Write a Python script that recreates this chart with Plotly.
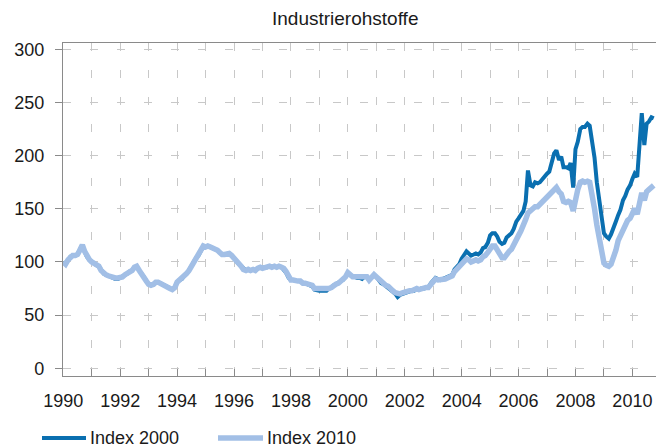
import plotly.graph_objects as go

# --- data ---
dates = [
    1990.00, 1990.08, 1990.17, 1990.25, 1990.33, 1990.42, 1990.50, 1990.58, 1990.67, 1990.75, 1990.83, 1990.92,
    1991.00, 1991.08, 1991.17, 1991.25, 1991.33, 1991.42, 1991.50, 1991.58, 1991.67, 1991.75, 1991.83, 1991.92,
    1992.00, 1992.08, 1992.17, 1992.25, 1992.33, 1992.42, 1992.50, 1992.58, 1992.67, 1992.75, 1992.83, 1992.92,
    1993.00, 1993.08, 1993.17, 1993.25, 1993.33, 1993.42, 1993.50, 1993.58, 1993.67, 1993.75, 1993.83, 1993.92,
    1994.00, 1994.08, 1994.17, 1994.25, 1994.33, 1994.42, 1994.50, 1994.58, 1994.67, 1994.75, 1994.83, 1994.92,
    1995.00, 1995.08, 1995.17, 1995.25, 1995.33, 1995.42, 1995.50, 1995.58, 1995.67, 1995.75, 1995.83, 1995.92,
    1996.00, 1996.08, 1996.17, 1996.25, 1996.33, 1996.42, 1996.50, 1996.58, 1996.67, 1996.75, 1996.83, 1996.92,
    1997.00, 1997.08, 1997.17, 1997.25, 1997.33, 1997.42, 1997.50, 1997.58, 1997.67, 1997.75, 1997.83, 1997.92,
    1998.00, 1998.08, 1998.17, 1998.25, 1998.33, 1998.42, 1998.50, 1998.58, 1998.67, 1998.75, 1998.83, 1998.92,
    1999.00, 1999.08, 1999.17, 1999.25, 1999.33, 1999.42, 1999.50, 1999.58, 1999.67, 1999.75, 1999.83, 1999.92,
    2000.00, 2000.08, 2000.17, 2000.25, 2000.33, 2000.42, 2000.50, 2000.58, 2000.67, 2000.75, 2000.83, 2000.92,
    2001.00, 2001.08, 2001.17, 2001.25, 2001.33, 2001.42, 2001.50, 2001.58, 2001.67, 2001.75, 2001.83, 2001.92,
    2002.00, 2002.08, 2002.17, 2002.25, 2002.33, 2002.42, 2002.50, 2002.58, 2002.67, 2002.75, 2002.83, 2002.92,
    2003.00, 2003.08, 2003.17, 2003.25, 2003.33, 2003.42, 2003.50, 2003.58, 2003.67, 2003.75, 2003.83, 2003.92,
    2004.00, 2004.08, 2004.17, 2004.25, 2004.33, 2004.42, 2004.50, 2004.58, 2004.67, 2004.75, 2004.83, 2004.92,
    2005.00, 2005.08, 2005.17, 2005.25, 2005.33, 2005.42, 2005.50, 2005.58, 2005.67, 2005.75, 2005.83, 2005.92,
    2006.00, 2006.08, 2006.17, 2006.25, 2006.33, 2006.42, 2006.50, 2006.58, 2006.67, 2006.75, 2006.83, 2006.92,
    2007.00, 2007.08, 2007.17, 2007.25, 2007.33, 2007.42, 2007.50, 2007.58, 2007.67, 2007.75, 2007.83, 2007.92,
    2008.00, 2008.08, 2008.17, 2008.25, 2008.33, 2008.42, 2008.50, 2008.58, 2008.67, 2008.75, 2008.83, 2008.92,
    2009.00, 2009.08, 2009.17, 2009.25, 2009.33, 2009.42, 2009.50, 2009.58, 2009.67, 2009.75, 2009.83, 2009.92,
    2010.00, 2010.08, 2010.17, 2010.25, 2010.33, 2010.42, 2010.50, 2010.58, 2010.67, 2010.75,
]

index_2000 = [
    100, 98, 102, 105, 106, 106, 107, 111, 116, 110, 105, 102,
    100, 99, 97, 96, 92, 89, 88, 87, 86, 84, 84, 84,
    85, 86, 88, 89, 91, 92, 95, 96, 92, 88, 86, 82,
    79, 78, 79, 81, 81, 80, 79, 78, 77, 75, 74, 76,
    81, 83, 84, 87, 89, 92, 96, 100, 104, 106, 110, 115,
    114, 115, 114, 113, 113, 111, 109, 107, 107, 108, 108, 106,
    104, 101, 98, 96, 93, 92, 93, 92, 93, 92, 94, 95,
    94, 95, 95, 96, 95, 96, 95, 96, 95, 93, 90, 85,
    83, 83, 82, 82, 82, 80, 80, 79, 78, 77, 74, 73,
    73, 73, 73, 73, 75, 76, 78, 79, 80, 82, 83, 86,
    90, 88, 86, 86, 85, 85, 84, 86, 86, 83, 85, 88,
    86, 83, 80, 79, 77, 76, 73, 72, 70, 67, 69, 70,
    71, 72, 73, 73, 73, 75, 74, 75, 75, 76, 76, 80,
    83, 85, 84, 83, 84, 85, 86, 86, 88, 93, 95, 98,
    103, 107, 110, 108, 106, 107, 108, 107, 109, 113, 114, 118,
    125, 127, 127, 124, 119, 117, 118, 123, 125, 127, 131, 138,
    141, 145, 148, 157, 186, 172, 171, 175, 174, 175, 178, 180,
    183, 185, 196, 202, 205, 196, 199, 189, 189, 188, 193, 170,
    206, 213, 225, 227, 227, 230, 228, 213, 198, 175, 160, 140,
    127, 124, 122, 126, 131, 138, 144, 149, 158, 162, 168, 172,
    178, 183, 180, 210, 240, 210, 230, 232, 236, 235,
]

index_2010 = [
    100, 98, 102, 105, 106, 106, 107, 111, 116, 110, 105, 102,
    100, 99, 97, 96, 92, 89, 88, 87, 86, 85, 85, 85,
    85, 86, 88, 89, 91, 92, 95, 96, 92, 88, 86, 82,
    79, 78, 79, 81, 81, 80, 79, 78, 77, 75, 74, 76,
    81, 83, 84, 87, 89, 92, 96, 100, 104, 106, 110, 115,
    114, 115, 114, 113, 113, 111, 109, 107, 107, 108, 108, 106,
    104, 101, 98, 96, 93, 92, 93, 92, 93, 92, 94, 95,
    94, 95, 95, 96, 95, 96, 95, 96, 95, 94, 91, 86,
    83, 83, 82, 82, 82, 80, 80, 79, 79, 78, 75, 75,
    74, 74, 74, 74, 75, 76, 78, 79, 80, 82, 83, 86,
    90, 88, 86, 86, 86, 86, 86, 87, 86, 83, 85, 88,
    86, 84, 81, 80, 78, 77, 74, 73, 71, 70, 70, 71,
    72, 72, 73, 73, 74, 75, 74, 75, 75, 76, 76, 79,
    82, 84, 83, 83, 84, 84, 85, 86, 87, 91, 93, 96,
    99, 101, 103, 102, 100, 101, 102, 101, 102, 105, 106, 109,
    113, 115, 115, 112, 107, 104, 104, 108, 110, 112, 117, 122,
    125, 129, 134, 140, 146, 148, 150, 152, 152, 154, 156, 158,
    160, 162, 165, 168, 170, 166, 164, 157, 156, 157, 156, 148,
    160, 168, 175, 176, 175, 176, 175, 165, 150, 135, 122, 108,
    99, 97, 96, 98, 103, 111, 120, 125, 128, 133, 139, 141,
    145, 150, 145, 155, 165, 158, 166, 168, 170, 172,
]

year_ticks = list(range(1990, 2011))
year_labels = [str(y) if y % 2 == 0 else "" for y in year_ticks]
y_ticks = [0, 50, 100, 150, 200, 250, 300]

title_text = "Industrierohstoffe"
series_names = ["Index 2000", "Index 2010"]

# --- styling ---
DARK = "#0a6fb0"
LIGHT = "#a2bfe6"
GRID = "#c8c8c8"
AXIS = "#8a8a8a"
FONT = "Liberation Sans, Arial, sans-serif"
TXT = "#1a1a1a"

W, H = 656, 447
ML, MR, MT, MB = 63, 0, 43, 71
PW, PH = W - ML - MR, H - MT - MB

fig = go.Figure()
fig.add_trace(go.Scatter(x=dates, y=index_2000, mode="lines", name=series_names[0],
                         line=dict(color=DARK, width=4), showlegend=False))
fig.add_trace(go.Scatter(x=dates, y=index_2010, mode="lines", name=series_names[1],
                         line=dict(color=LIGHT, width=5.5), showlegend=False))


def px_x(px):
    return (px - ML) / PW


def px_y(py):
    return (H - MB - py) / PH


# manual legend below the chart (pixel positions)
legend_items = [(42, 86, 88, DARK, 4, series_names[0]), (218, 263, 265, LIGHT, 5.5, series_names[1])]
for x0, x1, xt, col, lw, name in legend_items:
    fig.add_shape(type="line", xref="paper", yref="paper",
                  x0=px_x(x0), x1=px_x(x1), y0=px_y(438), y1=px_y(438),
                  line=dict(color=col, width=lw))
    fig.add_annotation(xref="paper", yref="paper", x=px_x(xt), y=px_y(438),
                       text=name, showarrow=False, xanchor="left", yanchor="middle",
                       font=dict(family=FONT, size=18, color=TXT))

fig.add_annotation(xref="paper", yref="paper", x=px_x(345), y=px_y(18),
                   text=title_text, showarrow=False, xanchor="center", yanchor="middle",
                   font=dict(family=FONT, size=19, color=TXT))

fig.update_layout(
    width=W, height=H,
    margin=dict(l=ML, r=MR, t=MT, b=MB, pad=0),
    paper_bgcolor="white", plot_bgcolor="white",
    font=dict(family=FONT, size=18, color=TXT),
    showlegend=False,
)

fig.update_xaxes(
    range=[1989.99, 2010.83],
    tickmode="array", tickvals=year_ticks, ticktext=year_labels,
    ticks="inside", ticklen=7, tickcolor=AXIS, tickwidth=1,
    showline=True, linecolor=AXIS, linewidth=1.2, mirror=True,
    showgrid=True, gridcolor=GRID, gridwidth=1, griddash="8px,19px",
    zeroline=False, ticklabelstandoff=8,
    tickfont=dict(family=FONT, size=18, color=TXT),
)
fig.update_yaxes(
    range=[-7.24, 305.9],
    tickmode="array", tickvals=y_ticks,
    ticks="outside", ticklen=7, tickcolor=AXIS, tickwidth=1,
    showline=True, linecolor=AXIS, linewidth=1.2,
    showgrid=True, gridcolor=GRID, gridwidth=1, griddash="8px,19px",
    zeroline=False, ticklabelstandoff=7,
    tickfont=dict(family=FONT, size=18, color=TXT),
)

# remove the default page margin so the figure fills the window exactly
page_fix = "document.body.style.margin='0';document.body.style.overflow='hidden';"
fig.write_html("out.html", post_script=page_fix, config={"displayModeBar": False})
